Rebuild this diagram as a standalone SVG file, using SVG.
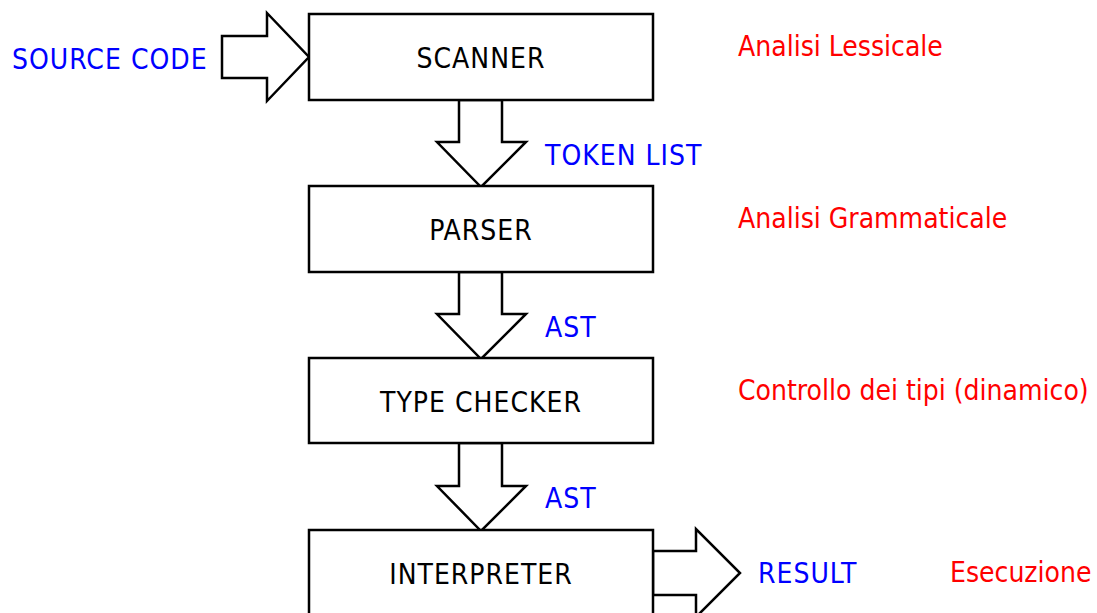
<svg xmlns="http://www.w3.org/2000/svg" width="1097" height="613" viewBox="0 0 1097 613">
<style>
text{font-family:"DejaVu Sans Condensed","DejaVu Sans",sans-serif;font-size:28px}
.box{fill:#fff;stroke:#000;stroke-width:2.5}
.arr{fill:#fff;stroke:#000;stroke-width:2.5;stroke-linejoin:miter}
.lbl{fill:#000;text-anchor:middle;letter-spacing:1px}
.blue{fill:#0000ff;letter-spacing:1px}
.red{fill:#ff0000}
</style>
<rect width="1097" height="613" fill="#fff"/>
<g id="connectors">
<polygon class="arr" points="222,36 267,36 267,13 309,57 267,101 267,78 222,78"/>
<polygon class="arr" points="459,100 502,100 502,142 526,142 481,187 437,142 459,142"/>
<polygon class="arr" points="459,272 502,272 502,314 526,314 481,359 437,314 459,314"/>
<polygon class="arr" points="459,443 502,443 502,486 526,486 481,531 437,486 459,486"/>
<polygon class="arr" points="653,551 696,551 696,529 740,573 696,617 696,595 653,595"/>
</g>
<g id="source"><text class="blue" x="12" y="69">SOURCE CODE</text></g>
<g id="scanner"><rect class="box" x="309" y="14" width="344" height="86"/><text class="lbl" x="481" y="68">SCANNER</text></g>
<g id="tokenlist"><text class="blue" x="545" y="165">TOKEN LIST</text></g>
<g id="parser"><rect class="box" x="309" y="186" width="344" height="86"/><text class="lbl" x="481" y="240">PARSER</text></g>
<g id="ast1"><text class="blue" x="545" y="337">AST</text></g>
<g id="typechecker"><rect class="box" x="309" y="358" width="344" height="85"/><text class="lbl" x="481" y="412">TYPE CHECKER</text></g>
<g id="ast2"><text class="blue" x="545" y="508">AST</text></g>
<g id="interpreter"><rect class="box" x="309" y="530" width="344" height="90"/><text class="lbl" x="481" y="584">INTERPRETER</text></g>
<g id="result"><text class="blue" x="758" y="583">RESULT</text></g>
<g id="notes">
<text class="red" x="738" y="56">Analisi Lessicale</text>
<text class="red" x="738" y="228">Analisi Grammaticale</text>
<text class="red" x="738" y="400">Controllo dei tipi (dinamico)</text>
<text class="red" x="950" y="582">Esecuzione</text>
</g>
</svg>
